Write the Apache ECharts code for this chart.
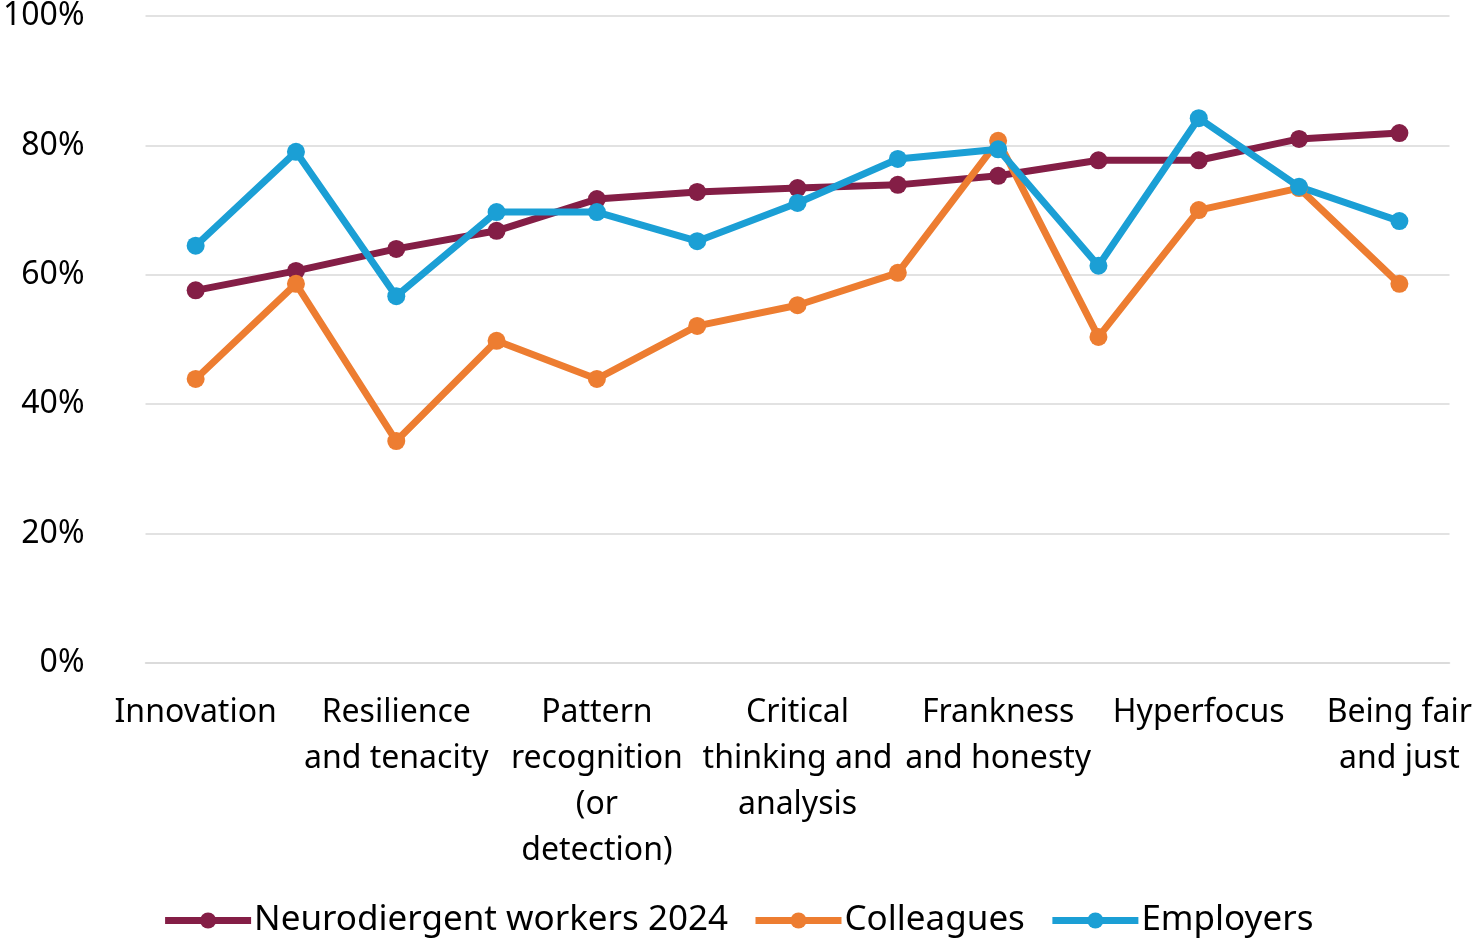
<!DOCTYPE html>
<html>
<head>
<meta charset="utf-8">
<script src="https://cdn.jsdelivr.net/npm/echarts@6/dist/echarts.min.js"></script>
<style>
html,body{margin:0;padding:0;background:#fff;}
#chart{width:1475px;height:942px;}
</style>
</head>
<body>
<div id="chart"></div>
<script>
// Categories (every other one is labelled in the original chart)
const categories = [
  "Innovation",
  "Strength 2",
  "Resilience\nand tenacity",
  "Strength 4",
  "Pattern\nrecognition\n(or\ndetection)",
  "Strength 6",
  "Critical\nthinking and\nanalysis",
  "Strength 8",
  "Frankness\nand honesty",
  "Strength 10",
  "Hyperfocus",
  "Strength 12",
  "Being fair\nand just"
];
const seriesNames = ["Neurodiergent workers 2024", "Colleagues", "Employers"];
const neurodivergent = [57.6, 60.6, 64.0, 66.8, 71.7, 72.8, 73.4, 73.9, 75.3, 77.7, 77.7, 81.0, 81.9];
const colleagues     = [43.9, 58.6, 34.3, 49.8, 43.9, 52.1, 55.3, 60.3, 80.7, 50.4, 70.0, 73.4, 58.6];
const employers      = [64.5, 79.0, 56.7, 69.7, 69.7, 65.2, 71.1, 77.9, 79.4, 61.4, 84.2, 73.6, 68.3];
const yTicks = [0, 20, 40, 60, 80, 100];

const colors = ["#841E46", "#ED7D31", "#1B9FD5"];
const font = "'Noto Sans', 'Open Sans', sans-serif";

function mk(name, data, color) {
  return {
    name: name,
    type: "line",
    data: data,
    symbol: "circle",
    symbolSize: 18,
    lineStyle: { width: 7, color: color },
    itemStyle: { color: color },
    emphasis: { disabled: true }
  };
}

const chart = echarts.init(document.getElementById("chart"));
chart.setOption({
  animation: false,
  textStyle: { fontFamily: font },
  grid: { left: 145, right: 25, top: 16, bottom: 279, containLabel: false },
  legend: {
    data: seriesNames,
    top: 898,
    left: "center",
    itemWidth: 86,
    itemHeight: 20,
    itemGap: 24,
    lineStyle: { width: 7 },
    textStyle: { fontSize: 35, color: "#000", fontFamily: font, padding: [0, 0, 0, -2] }
  },
  xAxis: {
    type: "category",
    data: categories,
    boundaryGap: true,
    axisLine: { lineStyle: { color: "#d9d9d9", width: 1.5 } },
    axisTick: { show: false },
    axisLabel: {
      interval: 1,
      fontSize: 32,
      lineHeight: 46,
      margin: 27,
      color: "#000",
      fontFamily: font
    }
  },
  yAxis: {
    type: "value",
    min: yTicks[0],
    max: yTicks[yTicks.length - 1],
    interval: yTicks[1] - yTicks[0],
    axisLine: { show: false },
    axisTick: { show: false },
    splitLine: { lineStyle: { color: "#d9d9d9", width: 1.5 } },
    axisLabel: {
      formatter: "{value}%",
      fontSize: 32,
      margin: 61,
      color: "#000",
      fontFamily: font
    }
  },
  series: [
    mk(seriesNames[0], neurodivergent, colors[0]),
    mk(seriesNames[1], colleagues, colors[1]),
    mk(seriesNames[2], employers, colors[2])
  ]
});
</script>
</body>
</html>
